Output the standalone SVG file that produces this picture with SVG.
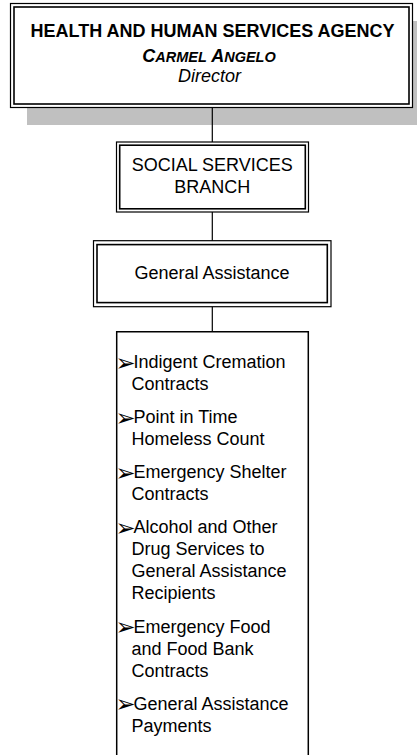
<svg xmlns="http://www.w3.org/2000/svg" width="417" height="755" viewBox="0 0 417 755">
<style>
.outer{fill:#fff;stroke:#000;stroke-width:1.2}
.inner{fill:none;stroke:#000;stroke-width:1.6}
.t{font-family:"Liberation Sans",Arial,sans-serif;font-size:18px;fill:#000}
.c{text-anchor:middle}
.b{font-weight:bold}
.i{font-style:italic}
.bul{font-family:"DejaVu Sans",sans-serif;font-size:24px;fill:#000}
.conn{stroke:#000;stroke-width:1.2;fill:none}
</style>
<rect width="417" height="755" fill="#fff"/>
<g id="agency">
<rect x="27" y="21" width="400" height="104" fill="#c0c0c0"/>
<rect class="outer" x="10.5" y="3.5" width="402" height="104"/>
<rect class="inner" x="14" y="7" width="395" height="97"/>
<text class="t c b" x="212.5" y="36.5">HEALTH AND HUMAN SERVICES AGENCY</text>
<text class="t c b i" x="209" y="61.5">C<tspan font-size="14.5">ARMEL</tspan> A<tspan font-size="14.5">NGELO</tspan></text>
<text class="t c i" x="209.5" y="82">Director</text>
</g>
<g id="connectors">
<line class="conn" x1="212.3" y1="107.5" x2="212.3" y2="142"/>
<line class="conn" x1="212.3" y1="212" x2="212.3" y2="241"/>
<line class="conn" x1="212.3" y1="306.5" x2="212.3" y2="332"/>
</g>
<g id="social">
<rect class="outer" x="116.5" y="142" width="192" height="70"/>
<rect class="inner" x="119.7" y="145.2" width="185.6" height="63.6"/>
<text class="t c" x="212.2" y="170.7">SOCIAL SERVICES</text>
<text class="t c" x="212.2" y="193.3">BRANCH</text>
</g>
<g id="general">
<rect class="outer" x="93.5" y="240.7" width="237.5" height="66"/>
<rect class="inner" x="97" y="244.6" width="230.3" height="58"/>
<text class="t c" x="212" y="279">General Assistance</text>
</g>
<g id="programs">
<path d="M116.7,760 V331.7 H308.3 V760" fill="#fff" stroke="#000" stroke-width="1.5"/>
<text class="bul" x="115.5" y="370.5">➢</text>
<text class="t" x="133.5" y="368.3">Indigent Cremation</text>
<text class="t" x="131.5" y="390.3">Contracts</text>
<text class="bul" x="115.5" y="425.5">➢</text>
<text class="t" x="133.5" y="423.3">Point in Time</text>
<text class="t" x="131.5" y="445.3">Homeless Count</text>
<text class="bul" x="115.5" y="480.5">➢</text>
<text class="t" x="133.5" y="478.3">Emergency Shelter</text>
<text class="t" x="131.5" y="500.3">Contracts</text>
<text class="bul" x="115.5" y="535.5">➢</text>
<text class="t" x="133.5" y="533.3">Alcohol and Other</text>
<text class="t" x="131.5" y="555.3">Drug Services to</text>
<text class="t" x="131.5" y="577.3">General Assistance</text>
<text class="t" x="131.5" y="599.3">Recipients</text>
<text class="bul" x="115.5" y="634.7">➢</text>
<text class="t" x="133.5" y="632.5">Emergency Food</text>
<text class="t" x="131.5" y="654.5">and Food Bank</text>
<text class="t" x="131.5" y="676.5">Contracts</text>
<text class="bul" x="115.5" y="712">➢</text>
<text class="t" x="133.5" y="709.8">General Assistance</text>
<text class="t" x="131.5" y="731.8">Payments</text>
</g>
</svg>
